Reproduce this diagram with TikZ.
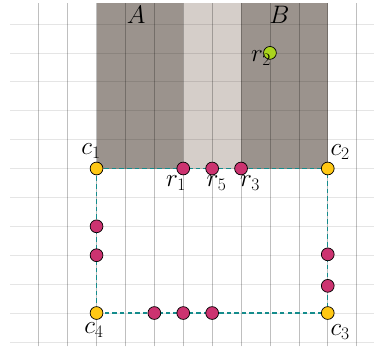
\documentclass[tikz,border=0pt]{standalone}
\begin{document}
\begin{tikzpicture}[x=1cm,y=1cm,
  regdark/.style={fill={rgb,255:red,155;green,147;blue,141}},
  reglight/.style={fill={rgb,255:red,213;green,206;blue,201}},
  vgrid/.style={draw=black,draw opacity=0.25,line width=0.7pt},
  hgrid/.style={draw=black,draw opacity=0.1,line width=0.7pt},
  border/.style={draw={rgb,255:red,20;green,140;blue,140},line width=1.2pt,dash pattern=on 4.5pt off 3pt},
  pt/.style={circle,draw=black,line width=0.7pt,minimum size=12.6pt,inner sep=0pt},
  corner/.style={pt,fill={rgb,255:red,255;green,200;blue,20}},
  rpt/.style={pt,fill={rgb,255:red,204;green,51;blue,112}},
  gpt/.style={pt,fill={rgb,255:red,170;green,212;blue,30}},
  lab/.style={font=\fontsize{26}{30}\selectfont,inner sep=0pt}]
\useasboundingbox (-3.34,-1.15) rectangle (9.6,10.83);
% regions
\path[regdark] (0,5) rectangle (3,10.73);
\path[reglight] (3,5) rectangle (5,10.73);
\path[regdark] (5,5) rectangle (8,10.73);
% grid
\foreach \x in {-2,...,9} \path[vgrid] (\x,-1.15) -- (\x,10.73);
\foreach \y in {-1,...,10} \path[hgrid] (-3,\y) -- (9.6,\y);
% labels of regions
\node[lab] (A) at (1.37,10.31) {$A$};
\node[lab] (B) at (6.33,10.31) {$B$};
% corners
\coordinate (k1) at (0,5);
\coordinate (k2) at (8,5);
\coordinate (k3) at (8,0);
\coordinate (k4) at (0,0);
\path[border] (k1) -- (k2) -- (k3) -- (k4) -- cycle;
\node[corner] (c1) at (k1) {};
\node[corner] (c2) at (k2) {};
\node[corner] (c3) at (k3) {};
\node[corner] (c4) at (k4) {};
% points
\node[rpt] (r1) at (3,5) {};
\node[rpt] (r5) at (4,5) {};
\node[rpt] (r3) at (5,5) {};
\node[gpt] (r2) at (6,9) {};
\node[rpt] (l1) at (0,3) {};
\node[rpt] (l2) at (0,2) {};
\node[rpt] (q1) at (8,2.03) {};
\node[rpt] (q2) at (8,0.94) {};
\node[rpt] (b1) at (2,0) {};
\node[rpt] (b2) at (3,0) {};
\node[rpt] (b3) at (4,0) {};
% labels
\node[lab] (c1l) at (-0.19,5.6) {$c_1$};
\node[lab] (c2l) at (8.43,5.57) {$c_2$};
\node[lab] (c3l) at (8.43,-0.66) {$c_3$};
\node[lab] (c4l) at (-0.09,-0.59) {$c_4$};
\node[lab] (r1l) at (2.75,4.5) {$r_1$};
\node[lab] (r5l) at (4.15,4.5) {$r_5$};
\node[lab] (r3l) at (5.31,4.5) {$r_3$};
\node[lab] (r2l) at (5.69,8.82) {$r_2$};
\end{tikzpicture}
\end{document}
